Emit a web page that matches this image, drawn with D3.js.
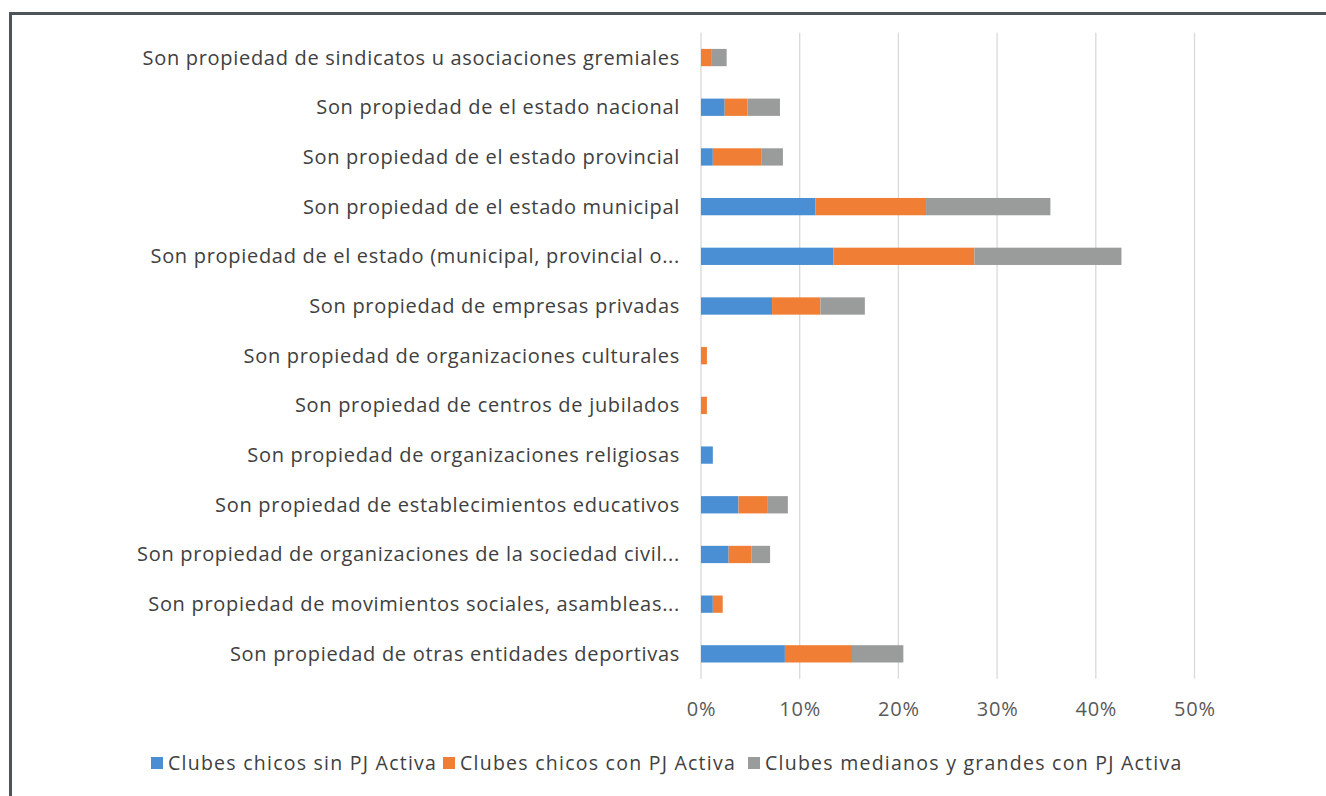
<!DOCTYPE html>
<head>
  <meta charset="utf-8">
  <script src="https://d3js.org/d3.v7.min.js"></script>
  <style>
    body { margin: 0; background: #fff; }
    text { font-family: "Open Sans", sans-serif; }
  </style>
</head>
<body>
  <div id="graph"></div>
  <script>
    // categories, top to bottom
    var categories = [
      "Son propiedad de sindicatos u asociaciones gremiales",
      "Son propiedad de el estado nacional",
      "Son propiedad de el estado provincial",
      "Son propiedad de el estado municipal",
      "Son propiedad de el estado (municipal, provincial o...",
      "Son propiedad de empresas privadas",
      "Son propiedad de organizaciones culturales",
      "Son propiedad de centros de jubilados",
      "Son propiedad de organizaciones religiosas",
      "Son propiedad de establecimientos educativos",
      "Son propiedad de organizaciones de la sociedad civil...",
      "Son propiedad de movimientos sociales, asambleas...",
      "Son propiedad de otras entidades deportivas"
    ];
    var seriesNames = [
      "Clubes chicos sin PJ Activa",
      "Clubes chicos con PJ Activa",
      "Clubes medianos y grandes con PJ Activa"
    ];
    var chicosSin = [0, 2.4, 1.2, 11.6, 13.4, 7.2, 0, 0, 1.2, 3.8, 2.8, 1.2, 8.5];
    var chicosCon = [1.1, 2.3, 4.9, 11.2, 14.3, 4.9, 0.6, 0.6, 0, 2.9, 2.3, 1.0, 6.8];
    var medianos = [1.5, 3.3, 2.2, 12.6, 14.9, 4.5, 0, 0, 0, 2.1, 1.9, 0, 5.2];
    var ticks = [0, 10, 20, 30, 40, 50];
    var colors = ["#4a8fd3", "#f07f35", "#9a9b9b"];

    var width = 1326;
    var height = 796;
    var svg = d3.select("#graph").append("svg")
      .attr("width", width)
      .attr("height", height);

    // frame
    svg.append("rect")
      .attr("x", 10.5).attr("y", 13.5)
      .attr("width", width + 20).attr("height", height + 20)
      .attr("fill", "none")
      .attr("stroke", "#4d555b")
      .attr("stroke-width", 3);

    var xmin = 701, xmax = 1194.5;
    var x = d3.scaleLinear().domain([0, 50]).range([xmin, xmax]);
    var y = d3.scaleBand().domain(categories).range([32.7, 678.7]).paddingInner(0.652).paddingOuter(0.326);

    // gridlines
    svg.append("g").selectAll("line")
      .data(ticks).enter()
      .append("line")
      .attr("x1", d => x(d)).attr("x2", d => x(d))
      .attr("y1", 32.7).attr("y2", 678.7)
      .attr("stroke", "#d9d9d9")
      .attr("stroke-width", 1.3);

    var rows = categories.map((c, i) => ({ cat: c, a: chicosSin[i], b: chicosCon[i], c: medianos[i] }));
    var stack = d3.stack().keys(["a", "b", "c"])(rows);

    svg.append("g").selectAll("g")
      .data(stack).enter()
      .append("g")
      .attr("fill", (d, i) => colors[i])
      .selectAll("rect")
      .data(d => d).enter()
      .append("rect")
      .attr("x", d => x(d[0]))
      .attr("y", d => y(d.data.cat))
      .attr("width", d => x(d[1]) - x(d[0]))
      .attr("height", y.bandwidth());

    // category labels
    svg.append("g").selectAll("text")
      .data(categories).enter()
      .append("text")
      .attr("x", 680)
      .attr("y", d => y(d) + y.bandwidth() / 2)
      .attr("dy", "0.35em")
      .attr("text-anchor", "end")
      .attr("font-size", 20)
      .attr("letter-spacing", 0.7)
      .attr("fill", "#404040")
      .text(d => d);

    // x axis tick labels
    var xAxis = d3.axisBottom(x).tickValues(ticks).tickFormat(d => d + "%").tickSize(0).tickPadding(0);
    var gx = svg.append("g")
      .attr("transform", "translate(0, 702)")
      .call(xAxis);
    gx.select(".domain").remove();
    gx.selectAll("text")
      .attr("font-family", "Open Sans, sans-serif")
      .attr("font-size", 20)
      .attr("letter-spacing", 0.8)
      .attr("fill", "#595959");

    // legend
    var legendX = [151, 443, 748];
    var lg = svg.append("g").selectAll("g")
      .data(seriesNames).enter()
      .append("g")
      .attr("transform", (d, i) => "translate(" + legendX[i] + ", 763)");
    lg.append("rect")
      .attr("x", 0).attr("y", -6)
      .attr("width", 12).attr("height", 12)
      .attr("fill", (d, i) => colors[i]);
    lg.append("text")
      .attr("x", 17)
      .attr("dy", "0.35em")
      .attr("font-size", 19.5)
      .attr("letter-spacing", 1.25)
      .attr("fill", "#404040")
      .text(d => d);
  </script>
</body>
